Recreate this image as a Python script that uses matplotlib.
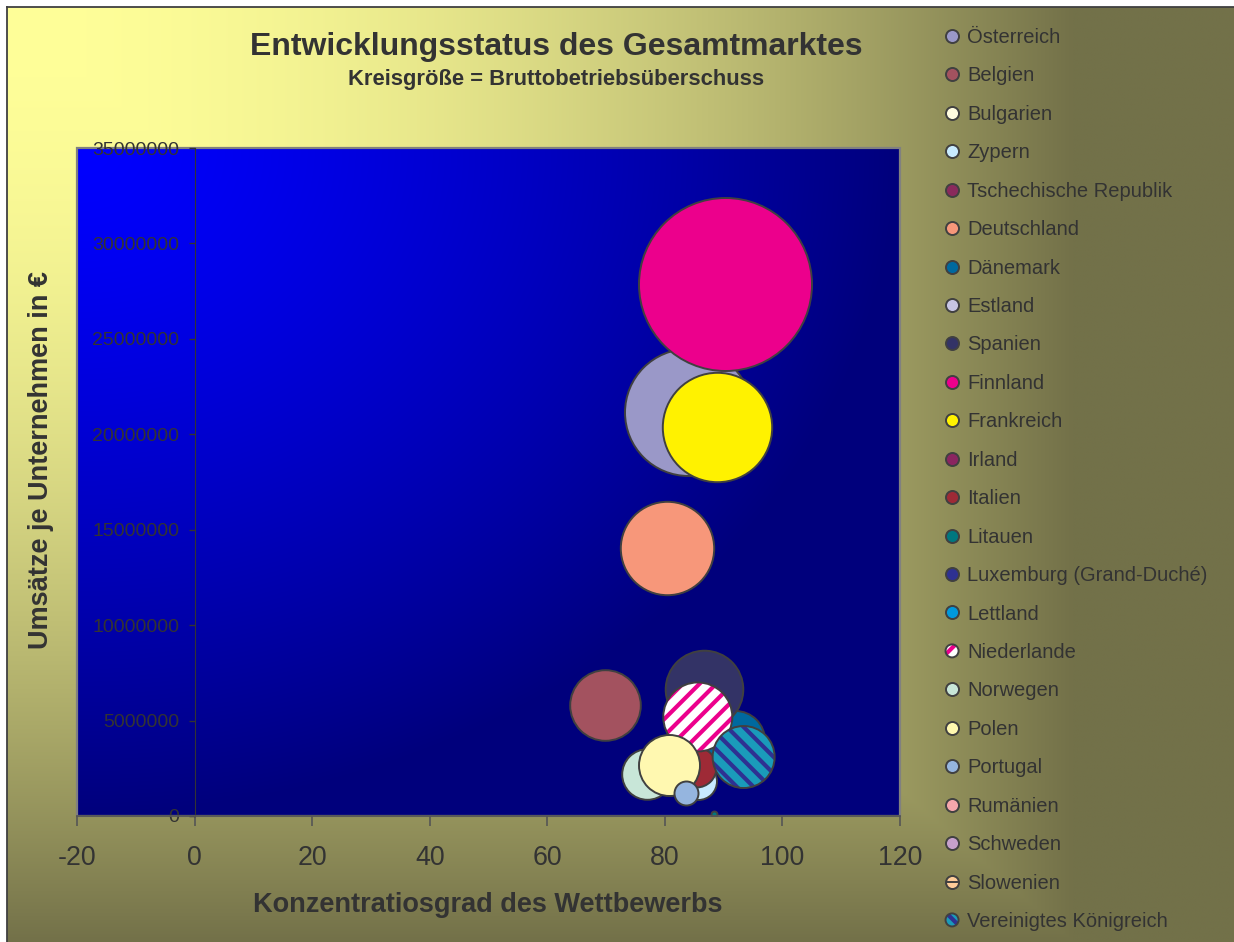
import numpy as np
import matplotlib
matplotlib.use('Agg')
import matplotlib.pyplot as plt
from matplotlib.collections import PathCollection
from matplotlib.legend_handler import HandlerPathCollection, HandlerTuple
from matplotlib.lines import Line2D
from matplotlib.patches import Rectangle
from matplotlib.ticker import MultipleLocator, FuncFormatter

plt.rcParams['font.family'] = ['Liberation Sans', 'DejaVu Sans']
plt.rcParams['hatch.linewidth'] = 3.0
plt.rcParams['axes.unicode_minus'] = False

# Daten je Land (nan = keine Blase sichtbar)
countries = ['Österreich', 'Belgien', 'Bulgarien', 'Zypern', 'Tschechische Republik',
             'Deutschland', 'Dänemark', 'Estland', 'Spanien', 'Finnland', 'Frankreich',
             'Irland', 'Italien', 'Litauen', 'Luxemburg (Grand-Duché)', 'Lettland',
             'Niederlande', 'Norwegen', 'Polen', 'Portugal', 'Rumänien', 'Schweden',
             'Slowenien', 'Vereinigtes Königreich']
nan = np.nan
konzentration = [84.0, 69.8, nan, 85.6, nan,
                 80.3, 91.9, nan, 86.6, 90.2, 88.9,
                 nan, 85.3, 88.4, nan, nan,
                 85.6, 76.9, 80.7, 83.6, nan, nan,
                 nan, 93.4]
umsatz = [21190000, 5800000, nan, 1830000, nan,
          14030000, 3980000, nan, 6630000, 27850000, 20380000,
          nan, 2570000, 80000, nan, nan,
          5190000, 2220000, 2660000, 1210000, nan, nan,
          nan, 3090000]
ueberschuss = [4030, 1246, nan, 342, nan,
               2181, 870, nan, 1505, 7482, 2992,
               nan, 400, 9, nan, nan,
               1190, 640, 930, 144, nan, nan,
               nan, 961]

fill_colors = ['#9A98C8', '#A3525F', '#FFFCE0', '#C8EBFF', '#8A2A5C',
               '#F7977A', '#00699F', '#C7C5E4', '#333366', '#EC008C', '#FFF200',
               '#8B2560', '#9E2A36', '#00777F', '#2E3192', '#0099DD',
               'white', '#C8E6D8', '#FFF8B0', '#95B5DF', '#F5A6AC', '#C6A0CC',
               '#FFCC99', '#1A9BBA']
hatches = {'Niederlande': ('//', '#EC008C'),
           'Vereinigtes Königreich': ('\\\\', '#2E3192')}

W, H, DPI = 1234, 942, 100
text_col = '#333333'
edge_col = '#404040'
max_radius_px = 86.5

fig = plt.figure(figsize=(W / DPI, H / DPI), dpi=DPI, facecolor='white')

# Hintergrund mit Verlauf (von der Ecke oben links)
bg = fig.add_axes([7 / W, 0, 1 - 7 / W, 1 - 7 / H], zorder=-5)
u, v = np.meshgrid(np.linspace(0, 1, 600), np.linspace(0, 1, 450))
t = np.clip(np.maximum(1.15 * u, v), 0, 1) ** 1.9
c0 = np.array([0xFF, 0xFF, 0x99]) / 255
c1 = np.array([0x73, 0x71, 0x49]) / 255
bg.imshow(c0 + (c1 - c0) * t[..., None], extent=[0, 1, 0, 1], aspect='auto',
          origin='upper', interpolation='bilinear')
bg.set_xticks([])
bg.set_yticks([])
for side in ['right', 'bottom']:
    bg.spines[side].set_visible(False)
for side in ['left', 'top']:
    bg.spines[side].set_color(edge_col)
    bg.spines[side].set_linewidth(1.3)

# Zeichenfläche
ax = fig.add_axes([77 / W, 1 - 816 / H, 823 / W, 668 / H])
pu, pv = np.meshgrid(np.linspace(0, 1, 300), np.linspace(0, 1, 300))
pt = np.clip(np.sqrt(pu ** 2 + pv ** 2), 0, 1) ** 1.3
b0 = np.array([0, 0, 255]) / 255
b1 = np.array([0, 0, 124]) / 255
ax.imshow(b0 + (b1 - b0) * pt[..., None], extent=[-20, 120, 0, 35000000],
          origin='upper', aspect='auto', zorder=0, interpolation='bilinear')
ax.set_xlim(-20, 120)
ax.set_ylim(0, 35000000)
ax.add_patch(Rectangle((0, 0), 1, 1, transform=ax.transAxes, fill=False,
                       edgecolor='#808080', lw=1.6, zorder=0.5, clip_on=False))

vmax = np.nanmax(ueberschuss)
handles = []
for name, x, y, val, col in zip(countries, konzentration, umsatz, ueberschuss, fill_colors):
    r = max_radius_px * np.sqrt(val / vmax) if np.isfinite(val) else 0
    s = (2 * r * 72 / DPI) ** 2
    if name in hatches:
        hp, hc = hatches[name]
        h1 = ax.scatter([x], [y], s=[s], facecolor=col, edgecolor=hc, hatch=hp,
                        linewidths=0, zorder=2)
        h2 = ax.scatter([x], [y], s=[s], facecolor='none', edgecolor=edge_col,
                        linewidths=1.4, zorder=2)
        handles.append((h1, h2))
    else:
        h = ax.scatter([x], [y], s=[s], facecolor=col, edgecolor=edge_col,
                       linewidths=1.4, zorder=2)
        if name == 'Slowenien':
            handles.append((h, Line2D([], [], marker='_', color=edge_col, markersize=9,
                                      markeredgewidth=1.4, lw=0)))
        else:
            handles.append(h)

# Achsen
for side in ['top', 'right']:
    ax.spines[side].set_visible(False)
ax.spines['left'].set_position(('data', 0))
ax.spines['left'].set_color(text_col)
ax.spines['bottom'].set_color('#555555')
ax.spines['bottom'].set_linewidth(1.3)
ax.xaxis.set_major_locator(MultipleLocator(20))
ax.yaxis.set_major_locator(MultipleLocator(5000000))
ax.yaxis.set_major_formatter(FuncFormatter(lambda val, pos: f'{val:.0f}'))
ax.tick_params(axis='x', direction='out', length=7, width=1.2, color='#555555',
               labelcolor=text_col, labelsize=19.3, pad=14)
ax.tick_params(axis='y', direction='out', length=4.5, width=1, color=text_col,
               labelcolor=text_col, labelsize=14, pad=6.5)

# Texte
fig.text(556 / W, 1 - 47 / H, 'Entwicklungsstatus des Gesamtmarktes', ha='center',
         va='center', fontsize=23, fontweight='bold', color=text_col)
fig.text(556 / W, 1 - 80 / H, 'Kreisgröße = Bruttobetriebsüberschuss', ha='center',
         va='center', fontsize=15.8, fontweight='bold', color=text_col)
fig.text(488 / W, 1 - 905 / H, 'Konzentratiosgrad des Wettbewerbs', ha='center',
         va='center', fontsize=19.5, fontweight='bold', color=text_col)
fig.text(41 / W, 1 - 460 / H, 'Umsätze je Unternehmen in €', ha='center',
         va='center', rotation=90, fontsize=19.5, fontweight='bold', color=text_col)

# Legende
fig.legend(handles, countries, loc='upper left',
           bbox_to_anchor=(945 / W, 1 - 28 / H), frameon=False,
           fontsize=14.5, labelcolor=text_col, borderpad=0, borderaxespad=0,
           handlelength=0.7, handletextpad=0.4, labelspacing=0.965,
           scatterpoints=1, scatteryoffsets=[0.5],
           handler_map={PathCollection: HandlerPathCollection(sizes=[88]),
                        tuple: HandlerTuple(ndivide=1, pad=0)})

fig.savefig('out.png', dpi=DPI)
